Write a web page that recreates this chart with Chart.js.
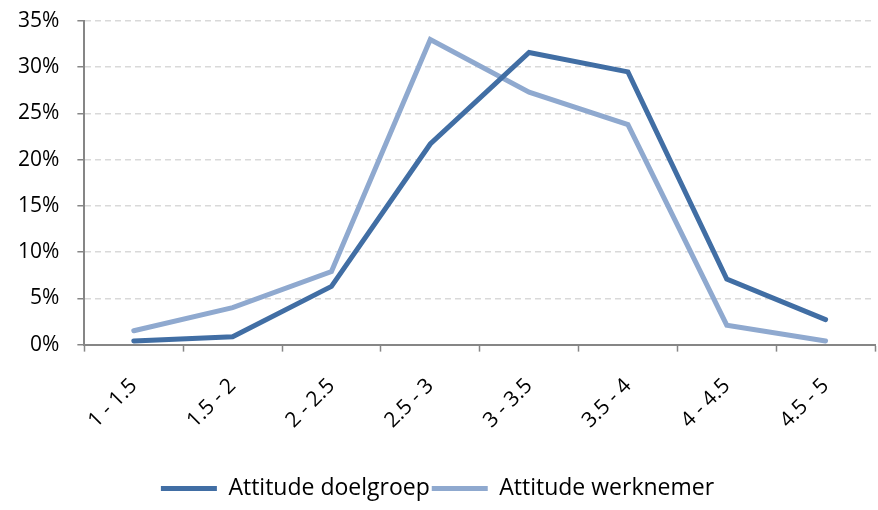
<!DOCTYPE html>
<html><head><meta charset="utf-8">
<script src="https://cdn.jsdelivr.net/npm/chart.js@4/dist/chart.umd.min.js"></script>
<style>html,body{margin:0;padding:0;background:#fff}#wrap{width:878px;height:510px}</style>
</head><body><div id="wrap"><canvas id="c" width="878" height="510"></canvas></div>
<script>
const categories = ['1 - 1.5','1.5 - 2','2 - 2.5','2.5 - 3','3 - 3.5','3.5 - 4','4 - 4.5','4.5 - 5'];
const doelgroep = [0.4, 0.85, 6.3, 21.7, 31.6, 29.5, 7.1, 2.7];
const werknemer = [1.5, 4.0, 7.9, 33.0, 27.3, 23.8, 2.1, 0.4];
const seriesNames = ['Attitude doelgroep','Attitude werknemer'];
const yTicks = [0,5,10,15,20,25,30,35];

const FONT = "'Open Sans', sans-serif";
new Chart(document.getElementById('c'), {
  type: 'line',
  data: {
    labels: categories,
    datasets: [
      {label: seriesNames[0], data: doelgroep, borderColor: '#416ea4', backgroundColor: '#416ea4', borderWidth: 5, pointRadius: 0, tension: 0, borderCapStyle: 'round', borderJoinStyle: 'miter'},
      {label: seriesNames[1], data: werknemer, borderColor: '#8fa9cf', backgroundColor: '#8fa9cf', borderWidth: 5, pointRadius: 0, tension: 0, borderCapStyle: 'round', borderJoinStyle: 'miter'}
    ]
  },
  options: {
    responsive: false,
    animation: false,
    devicePixelRatio: 1,
    layout: {padding: {left: 0, right: 3, top: 21, bottom: 0}},
    plugins: {
      tooltip: {enabled: false},
      legend: {
        position: 'bottom',
        title: {display: true, text: ' ', font: {size: 1}, padding: {top: 18.5, bottom: 0}},
        labels: {
          usePointStyle: true, pointStyle: 'line', pointStyleWidth: 56,
          font: {family: FONT, size: 23}, color: '#000', padding: 2
        }
      }
    },
    scales: {
      x: {
        offset: true,
        afterFit: s => { s.paddingTop = 0; },
        grid: {offset: true, drawOnChartArea: false, drawTicks: true, tickLength: 7, tickColor: '#868686', tickWidth: 1.5},
        border: {color: '#868686', width: 2},
        ticks: {minRotation: 45, maxRotation: 45, font: {family: FONT, size: 21}, color: '#000', padding: 22}
      },
      y: {
        min: 0, max: 35,
        afterBuildTicks: s => { s.ticks = yTicks.map(v => ({value: v})); },
        afterFit: s => { s.paddingTop = 0; },
        grid: {color: '#d9d9d9', lineWidth: 1.5, tickLength: 7, tickColor: '#868686', tickWidth: 1.5, tickBorderDash: []},
        border: {color: '#868686', width: 2, dash: [6,4]},
        ticks: {font: {family: FONT, size: 21}, color: '#000', padding: 18, callback: v => v + '%'}
      }
    }
  }
});
</script></body></html>
